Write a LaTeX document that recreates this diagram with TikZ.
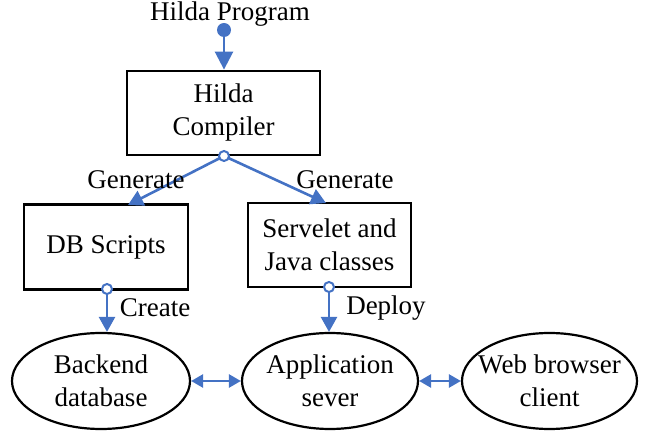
\documentclass[tikz,border=0pt]{standalone}
\usepackage{fontspec}
\setmainfont{Liberation Serif}
\usetikzlibrary{arrows.meta,shapes.geometric}
\definecolor{lnblue}{HTML}{4472C4}
\begin{document}
\begin{tikzpicture}[x=1pt,y=-1pt,
  txt/.style={font=\fontsize{27}{33}\selectfont, inner sep=0pt},
  boxnode/.style={txt, draw=black, line width=2.8pt, align=center},
  ellnode/.style={txt, ellipse, draw=black, line width=2.2pt, align=center, inner xsep=-16pt, minimum width=176pt, minimum height=96pt},
  conn/.style={draw=lnblue, line width=2.6pt, -{Triangle[length=15pt,width=16pt]}},
  dconn/.style={draw=lnblue, line width=2.6pt, {Triangle[length=12pt,width=13pt]}-{Triangle[length=12pt,width=13pt]}},
  port/.style={circle, draw=lnblue, fill=white, line width=2pt, minimum size=10pt, inner sep=0pt},
  lbl/.style={txt}]
\useasboundingbox (0,0) rectangle (654,438);

\node[lbl] (prog) at (230,14) {Hilda Program};
\node[circle, fill=lnblue, minimum size=14pt, inner sep=0pt] (dot) at (224,30) {};

\node[boxnode, minimum width=193pt, minimum height=84pt] (comp) at (223.5,113) {Hilda\\Compiler};
\node[boxnode, minimum width=164pt, minimum height=85pt] (db) at (106,247) {DB Scripts};
\node[boxnode, minimum width=163pt, minimum height=84pt] (srv) at (329.5,245) {Servelet and\\Java classes};

\node[ellnode, minimum width=178pt] (be) at (101,381) {Backend\\database};
\node[ellnode, minimum width=176pt] (as) at (330,381) {Application\\sever};
\node[ellnode, minimum width=175pt] (wb) at (549.5,381) {Web browser\\client};

\draw[conn, -{Triangle[length=18pt,width=18pt]}] (dot) -- (comp.north -| dot);

\coordinate (dbtop) at (128,205);
\coordinate (srvtop) at (326,203);
\draw[conn] (224,156) -- (dbtop);
\draw[conn] (224,156) -- (srvtop);
\node[port] (cp) at (224,156) {};

\node[lbl] (g1) at (136,180) {Generate};
\node[lbl] (g2) at (345,180) {Generate};

\node[port] (dp) at (107,289) {};
\node[port] (sp) at (329,287) {};
\draw[conn] (dp) -- (dp |- be.north);
\draw[conn] (sp) -- (sp |- as.north);

\node[lbl] (cr) at (155,308) {Create};
\node[lbl] (de) at (386,308) {Deploy};

\draw[dconn] (be.east) -- (as.west);
\draw[dconn] (as.east) -- (wb.west);
\end{tikzpicture}
\end{document}
